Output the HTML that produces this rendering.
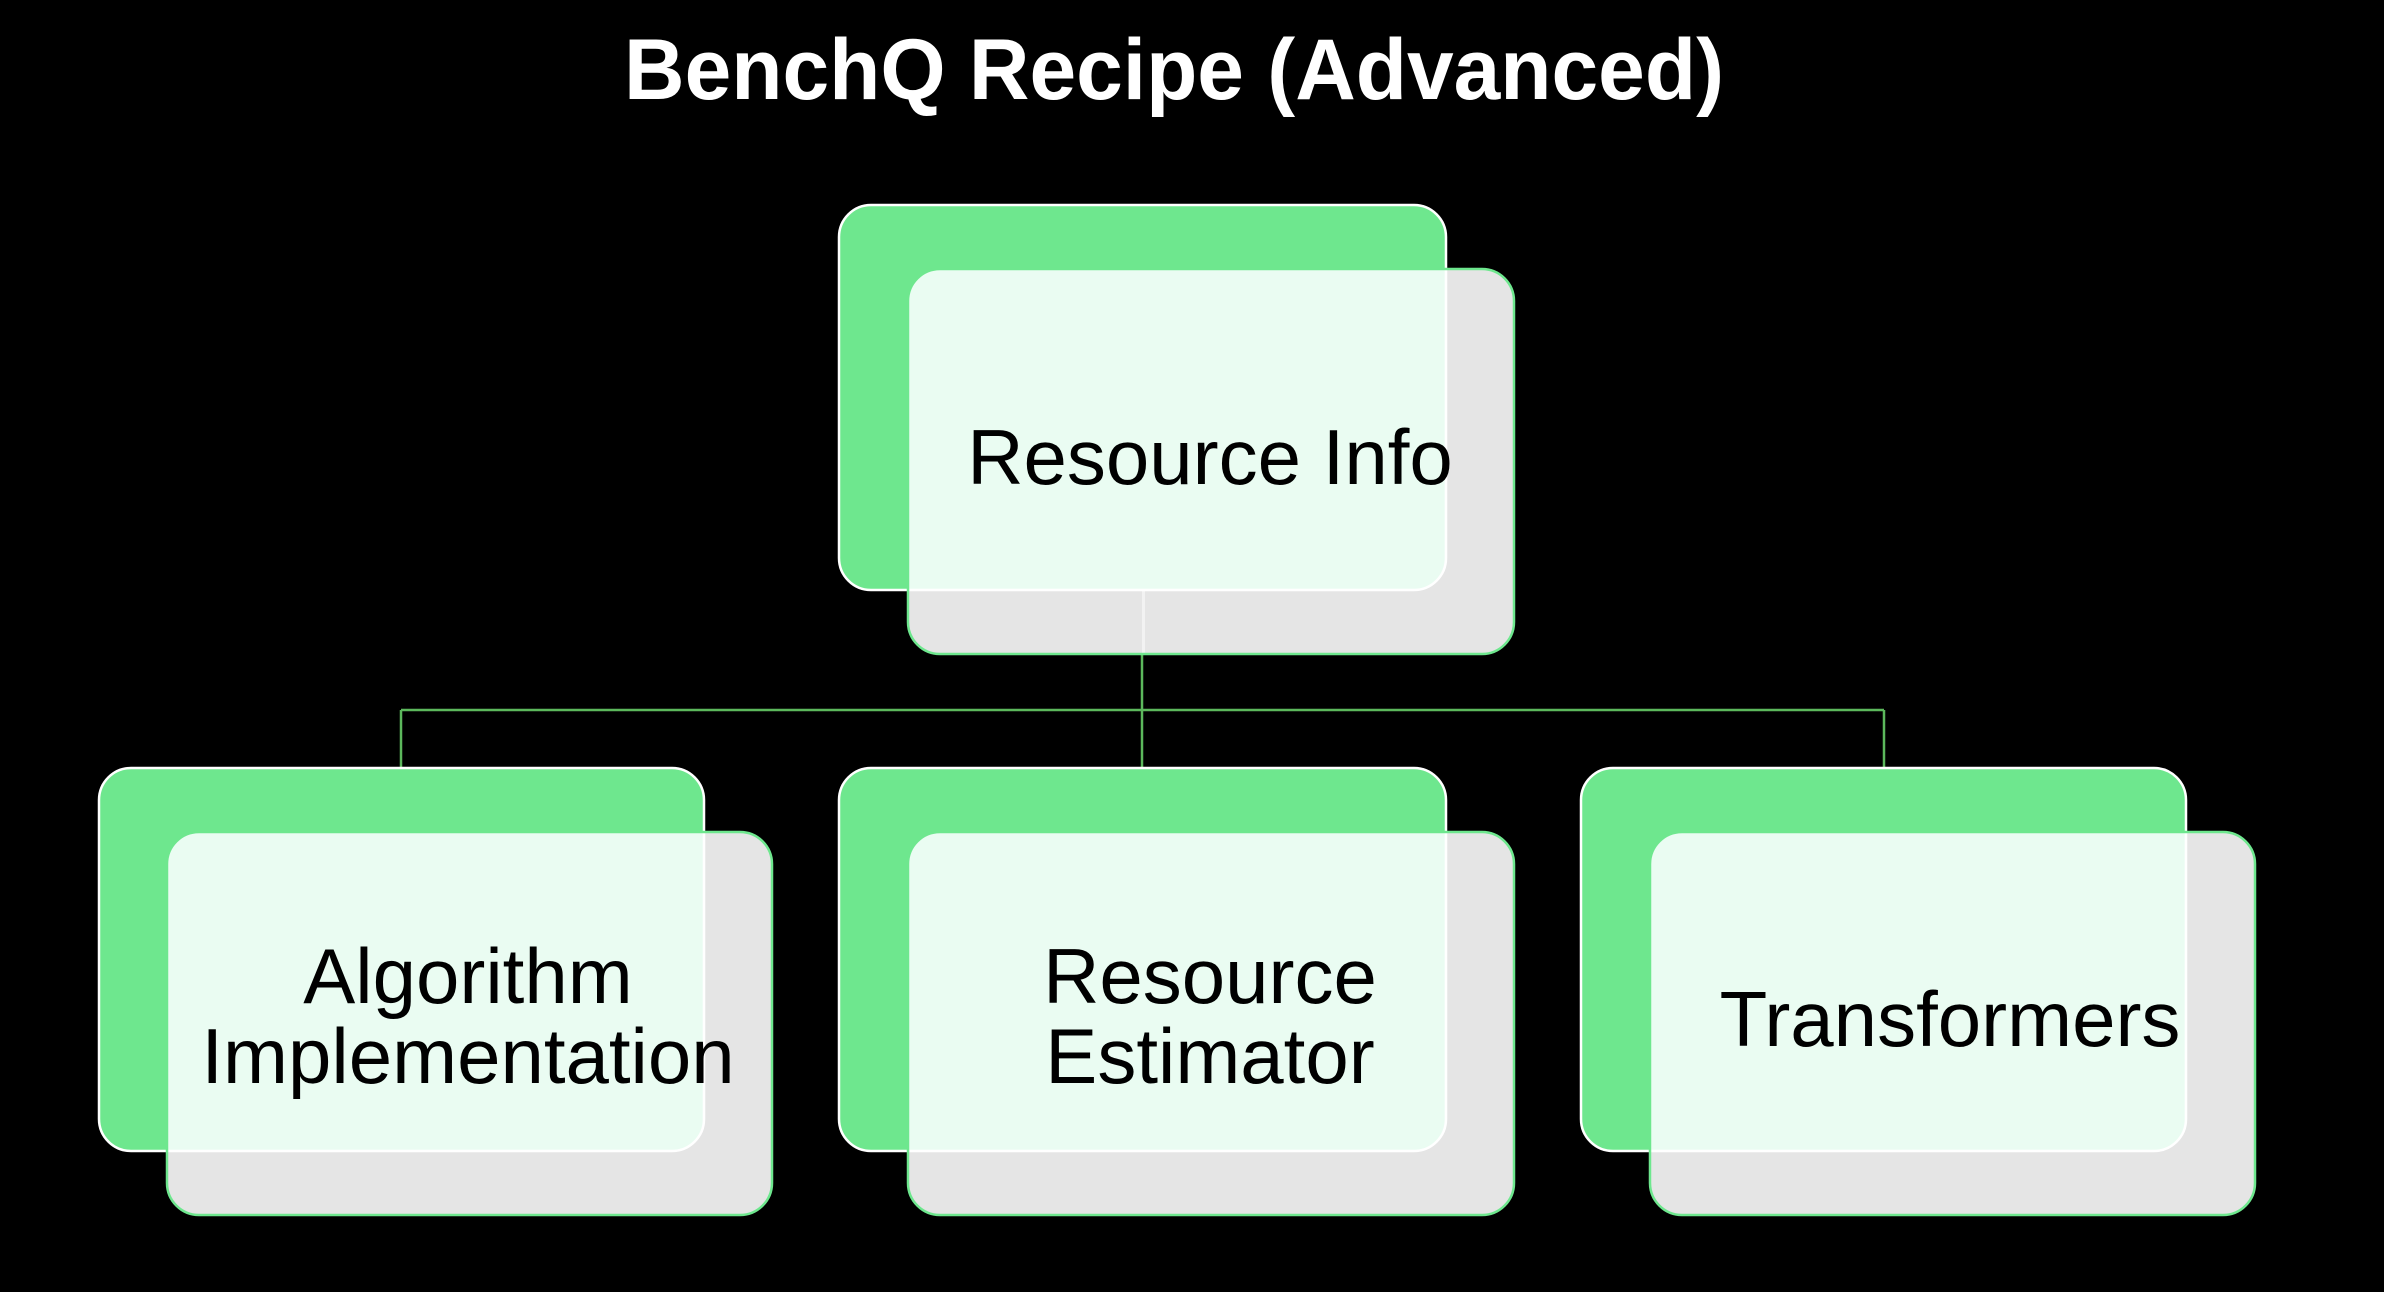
<!DOCTYPE html>
<html><head><meta charset="utf-8"><style>html,body{margin:0;padding:0;background:#000;}svg{display:block}</style></head>
<body>
<svg width="2384" height="1292" viewBox="0 0 2384 1292" xmlns="http://www.w3.org/2000/svg">
<defs>
<clipPath id="f0"><rect x="908" y="269" width="606" height="385" rx="32"/></clipPath>
<clipPath id="f1"><rect x="167" y="832" width="605" height="383" rx="32"/></clipPath>
<clipPath id="f2"><rect x="908" y="832" width="606" height="383" rx="32"/></clipPath>
<clipPath id="f3"><rect x="1650" y="832" width="605" height="383" rx="32"/></clipPath>
</defs>
<rect width="2384" height="1292" fill="#000"/>
<text x="1174" y="99" text-anchor="middle" font-family="Liberation Sans, sans-serif" font-weight="bold" font-size="86" fill="#fff" textLength="1100" lengthAdjust="spacingAndGlyphs">BenchQ Recipe (Advanced)</text>
<g stroke="#5cb85c" stroke-width="2.5" fill="none">
<path d="M1142 590 V768 M401 710 H1884 M401 710 V768 M1884 710 V768"/>
</g>
<g font-family="Liberation Sans, sans-serif" font-size="78" fill="#000" text-anchor="middle">
<!-- top -->
<rect x="839" y="205" width="607" height="385" rx="32" fill="#6ee78e"/>
<rect x="908" y="269" width="606" height="385" rx="32" fill="#e5e5e5"/>
<rect x="839" y="205" width="607" height="385" rx="32" fill="#eafcf2" clip-path="url(#f0)"/>
<rect x="1142" y="590" width="3" height="64" fill="#f2f2f2"/>
<rect x="839" y="205" width="607" height="385" rx="32" fill="none" stroke="#fff" stroke-width="2.5"/>
<rect x="908" y="269" width="606" height="385" rx="32" fill="none" stroke="#6ee78e" stroke-width="2.5"/>
<text x="1210" y="484">Resource Info</text>

<rect x="99" y="768" width="605" height="383" rx="32" fill="#6ee78e"/>
<rect x="167" y="832" width="605" height="383" rx="32" fill="#e5e5e5"/>
<rect x="99" y="768" width="605" height="383" rx="32" fill="#eafcf2" clip-path="url(#f1)"/>
<rect x="99" y="768" width="605" height="383" rx="32" fill="none" stroke="#fff" stroke-width="2.5"/>
<rect x="167" y="832" width="605" height="383" rx="32" fill="none" stroke="#6ee78e" stroke-width="2.5"/>
<text x="468" y="1003">Algorithm</text>
<text x="468" y="1083">Implementation</text>

<rect x="839" y="768" width="607" height="383" rx="32" fill="#6ee78e"/>
<rect x="908" y="832" width="606" height="383" rx="32" fill="#e5e5e5"/>
<rect x="839" y="768" width="607" height="383" rx="32" fill="#eafcf2" clip-path="url(#f2)"/>
<rect x="839" y="768" width="607" height="383" rx="32" fill="none" stroke="#fff" stroke-width="2.5"/>
<rect x="908" y="832" width="606" height="383" rx="32" fill="none" stroke="#6ee78e" stroke-width="2.5"/>
<text x="1210" y="1003">Resource</text>
<text x="1210" y="1083">Estimator</text>

<rect x="1581" y="768" width="605" height="383" rx="32" fill="#6ee78e"/>
<rect x="1650" y="832" width="605" height="383" rx="32" fill="#e5e5e5"/>
<rect x="1581" y="768" width="605" height="383" rx="32" fill="#eafcf2" clip-path="url(#f3)"/>
<rect x="1581" y="768" width="605" height="383" rx="32" fill="none" stroke="#fff" stroke-width="2.5"/>
<rect x="1650" y="832" width="605" height="383" rx="32" fill="none" stroke="#6ee78e" stroke-width="2.5"/>
<text x="1950" y="1046">Transformers</text>
</g>
</svg>
</body></html>
